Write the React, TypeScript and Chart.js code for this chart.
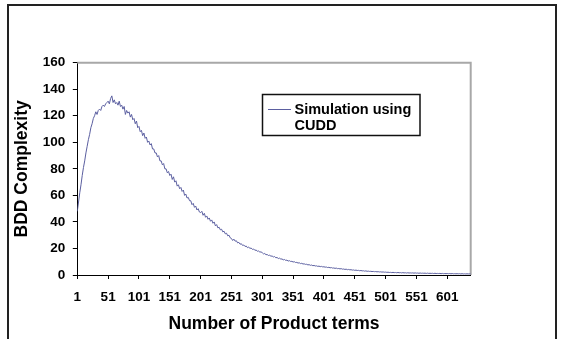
import React, { useEffect, useRef } from "react";
import { Chart, registerables } from "chart.js";

Chart.register(...registerables);

const xTickLabels = [1, 51, 101, 151, 201, 251, 301, 351, 401, 451, 501, 551, 601];
const yTickValues = [0, 20, 40, 60, 80, 100, 120, 140, 160];
const seriesLabel = "Simulation using CUDD";
const legendLines = ["Simulation using", "CUDD"];
const xTitle = "Number of Product terms";
const yTitle = "BDD Complexity";

// BDD complexity read at product-term counts 1, 3, 5, ... 639
const complexity = [
  48, 55, 62, 68, 75, 81, 86, 92, 97, 102, 106, 111, 114, 118, 120, 123, 121, 124, 125, 124, 127, 128, 127, 129, 130,
  131, 129, 133, 135, 130, 132, 129, 130, 128, 131, 127, 128, 125, 127, 121, 124, 122, 123, 119, 121, 117, 118, 114, 116, 111,
  112, 108, 109, 105, 107, 103, 104, 100, 101, 98, 99, 95, 95, 92, 92, 89, 90, 86, 86, 83, 84, 80, 80, 77, 78,
  75, 76, 72, 74, 70, 71, 67, 68, 65, 66, 63, 64, 60, 61, 58, 58.5, 56, 56, 53, 54, 51, 52, 49, 50, 47.5,
  47, 48, 45, 46.5, 43.5, 44.5, 42, 43, 40.5, 41.5, 39, 40, 37, 38, 35.5, 36, 34, 34.5, 32.5, 33, 31, 31.5, 29.5, 30, 28,
  27.5, 26, 27, 25.5, 25.8, 24.2, 24.6, 23.2, 23.6, 22.3, 22.6, 21.5, 21.8, 20.6, 21, 20.1, 20.3, 19.3, 19.6, 18.6, 18.8, 17.9, 18.1, 17.3, 17.4,
  16.8, 15.9, 16.2, 15.3, 15.4, 14.7, 14.9, 14.2, 14.3, 13.6, 13.9, 13.0, 13.2, 12.4, 12.7, 12.0, 12.1, 11.4, 11.7, 11.0, 11.2, 10.5, 10.8, 10.2, 10.3,
  9.8, 10.0, 9.4, 9.5, 9.0, 9.2, 8.6, 8.8, 8.3, 8.4, 8.0, 8.1, 7.6, 7.8, 7.3, 7.5, 7.0, 7.2, 6.8, 6.9, 6.5, 6.7, 6.3, 6.5, 6.1,
  6.2, 5.9, 6.0, 5.6, 5.8, 5.4, 5.6, 5.2, 5.3, 5.0, 5.2, 4.8, 4.9, 4.6, 4.8, 4.4, 4.5, 4.2, 4.4, 4.0, 4.2, 3.9, 4.0, 3.7, 3.8,
  3.5, 3.7, 3.4, 3.5, 3.2, 3.4, 3.1, 3.2, 2.9, 3.1, 2.8, 2.9, 2.7, 2.8, 2.6, 2.7, 2.5, 2.6, 2.4, 2.5, 2.3, 2.4, 2.2, 2.3, 2.1,
  2.2, 2.0, 2.1, 1.9, 2.0, 1.8, 2.0, 1.8, 1.9, 1.7, 1.9, 1.7, 1.8, 1.6, 1.8, 1.6, 1.7, 1.5, 1.7, 1.5, 1.6, 1.5, 1.6, 1.4, 1.6,
  1.4, 1.5, 1.3, 1.5, 1.3, 1.4, 1.3, 1.4, 1.2, 1.4, 1.2, 1.3, 1.2, 1.3, 1.1, 1.3, 1.1, 1.2, 1.1, 1.2, 1.0, 1.2, 1.0, 1.1, 1.0,
  1.1, 1.0, 1.1, 0.9, 1.1, 0.9, 1.0, 0.9, 1.0, 0.9, 1.0, 0.8, 1.0, 0.8, 0.9, 0.8, 0.9, 0.8, 0.9, 0.8,
];
const productTerms = complexity.map((_, i) => 2 * i + 1);

const FONT = '"Liberation Sans", Arial, Helvetica, sans-serif';
const LINE_COLOR = "#5b5fa0";

const framePlugin = {
  id: "plotFrame",
  beforeDatasetsDraw(chart: any) {
    const { ctx, chartArea: a } = chart;
    ctx.save();
    ctx.strokeStyle = "#a8a8a8";
    ctx.lineWidth = 2;
    ctx.beginPath();
    ctx.moveTo(a.left, a.top);
    ctx.lineTo(a.right, a.top);
    ctx.lineTo(a.right, a.bottom);
    ctx.stroke();
    ctx.restore();
  },
};

const boxLegendPlugin = {
  id: "boxLegend",
  afterDraw(chart: any) {
    const { ctx } = chart;
    const ds = chart.data.datasets[0];
    const bx = 262.5, by = 94.5, bw = 157.5, bh = 41;
    ctx.save();
    ctx.fillStyle = "#ffffff";
    ctx.fillRect(bx, by, bw, bh);
    ctx.strokeStyle = "#111111";
    ctx.lineWidth = 1.5;
    ctx.strokeRect(bx, by, bw, bh);
    ctx.strokeStyle = ds.borderColor;
    ctx.lineWidth = 1;
    ctx.beginPath();
    ctx.moveTo(268, 109.5);
    ctx.lineTo(291, 109.5);
    ctx.stroke();
    ctx.fillStyle = "#000000";
    ctx.font = `bold 14.5px ${FONT}`;
    ctx.textBaseline = "middle";
    ctx.textAlign = "left";
    legendLines.forEach((line, i) => {
      ctx.fillText(line, 294.5, 109.5 + i * 16.5);
    });
    ctx.restore();
  },
};

export default function App() {
  const ref = useRef<HTMLCanvasElement | null>(null);

  useEffect(() => {
    if (!ref.current) return;
    const chart = new Chart(ref.current, {
      type: "line",
      data: {
        datasets: [
          {
            label: seriesLabel,
            data: productTerms.map((x, i) => ({ x, y: complexity[i] })),
            borderColor: LINE_COLOR,
            borderWidth: 1,
            pointRadius: 0,
            tension: 0,
            fill: false,
          },
        ],
      },
      options: {
        animation: false,
        responsive: false,
        devicePixelRatio: 1,
        layout: { padding: { left: 0, top: 62.7, right: 95.3, bottom: 0 } },
        plugins: {
          legend: { display: false },
          tooltip: { enabled: false },
        },
        scales: {
          x: {
            type: "linear",
            min: productTerms[0],
            max: productTerms[productTerms.length - 1],
            afterBuildTicks: (scale: any) => {
              scale.ticks = xTickLabels.map((v) => ({ value: v }));
            },
            afterFit: (scale: any) => {
              scale.height = 64;
            },
            grid: {
              drawOnChartArea: false,
              drawTicks: true,
              tickLength: 4,
              tickColor: "#000",
              tickWidth: 1,
            },
            border: { display: true, color: "#000", width: 1 },
            ticks: {
              autoSkip: false,
              maxRotation: 0,
              minRotation: 0,
              padding: 10.5,
              color: "#000",
              font: { family: FONT, size: 13.5, weight: "bold" },
              callback: (v: any) => String(v),
            },
            title: {
              display: true,
              text: xTitle,
              color: "#000",
              font: { family: FONT, size: 17.5, weight: "bold" },
              padding: { top: 0, bottom: 4 },
            },
          },
          y: {
            type: "linear",
            min: yTickValues[0],
            max: yTickValues[yTickValues.length - 1],
            afterBuildTicks: (scale: any) => {
              scale.ticks = yTickValues.map((v) => ({ value: v }));
            },
            afterFit: (scale: any) => {
              scale.width = 77.3;
            },
            grid: {
              drawOnChartArea: false,
              drawTicks: true,
              tickLength: 4.5,
              tickColor: "#000",
              tickWidth: 1,
            },
            border: { display: true, color: "#000", width: 1 },
            ticks: {
              padding: 7.5,
              color: "#000",
              font: { family: FONT, size: 13.5, weight: "bold" },
            },
            title: {
              display: true,
              text: yTitle,
              color: "#000",
              font: { family: FONT, size: 17.5, weight: "bold" },
              padding: { top: 12, bottom: 0 },
            },
          },
        },
      },
      plugins: [framePlugin, boxLegendPlugin],
    } as any);
    return () => chart.destroy();
  }, []);

  return (
    <div style={{ position: "fixed", left: 0, top: 0, width: 566, height: 339, background: "#fff", overflow: "hidden" }}>
      <div
        style={{
          position: "absolute",
          left: 7,
          top: 4,
          width: 550,
          height: 400,
          boxSizing: "border-box",
          border: "2px solid #222",
        }}
      />
      <canvas ref={ref} width={566} height={339} style={{ position: "absolute", left: 0, top: 0, width: 566, height: 339 }} />
    </div>
  );
}
